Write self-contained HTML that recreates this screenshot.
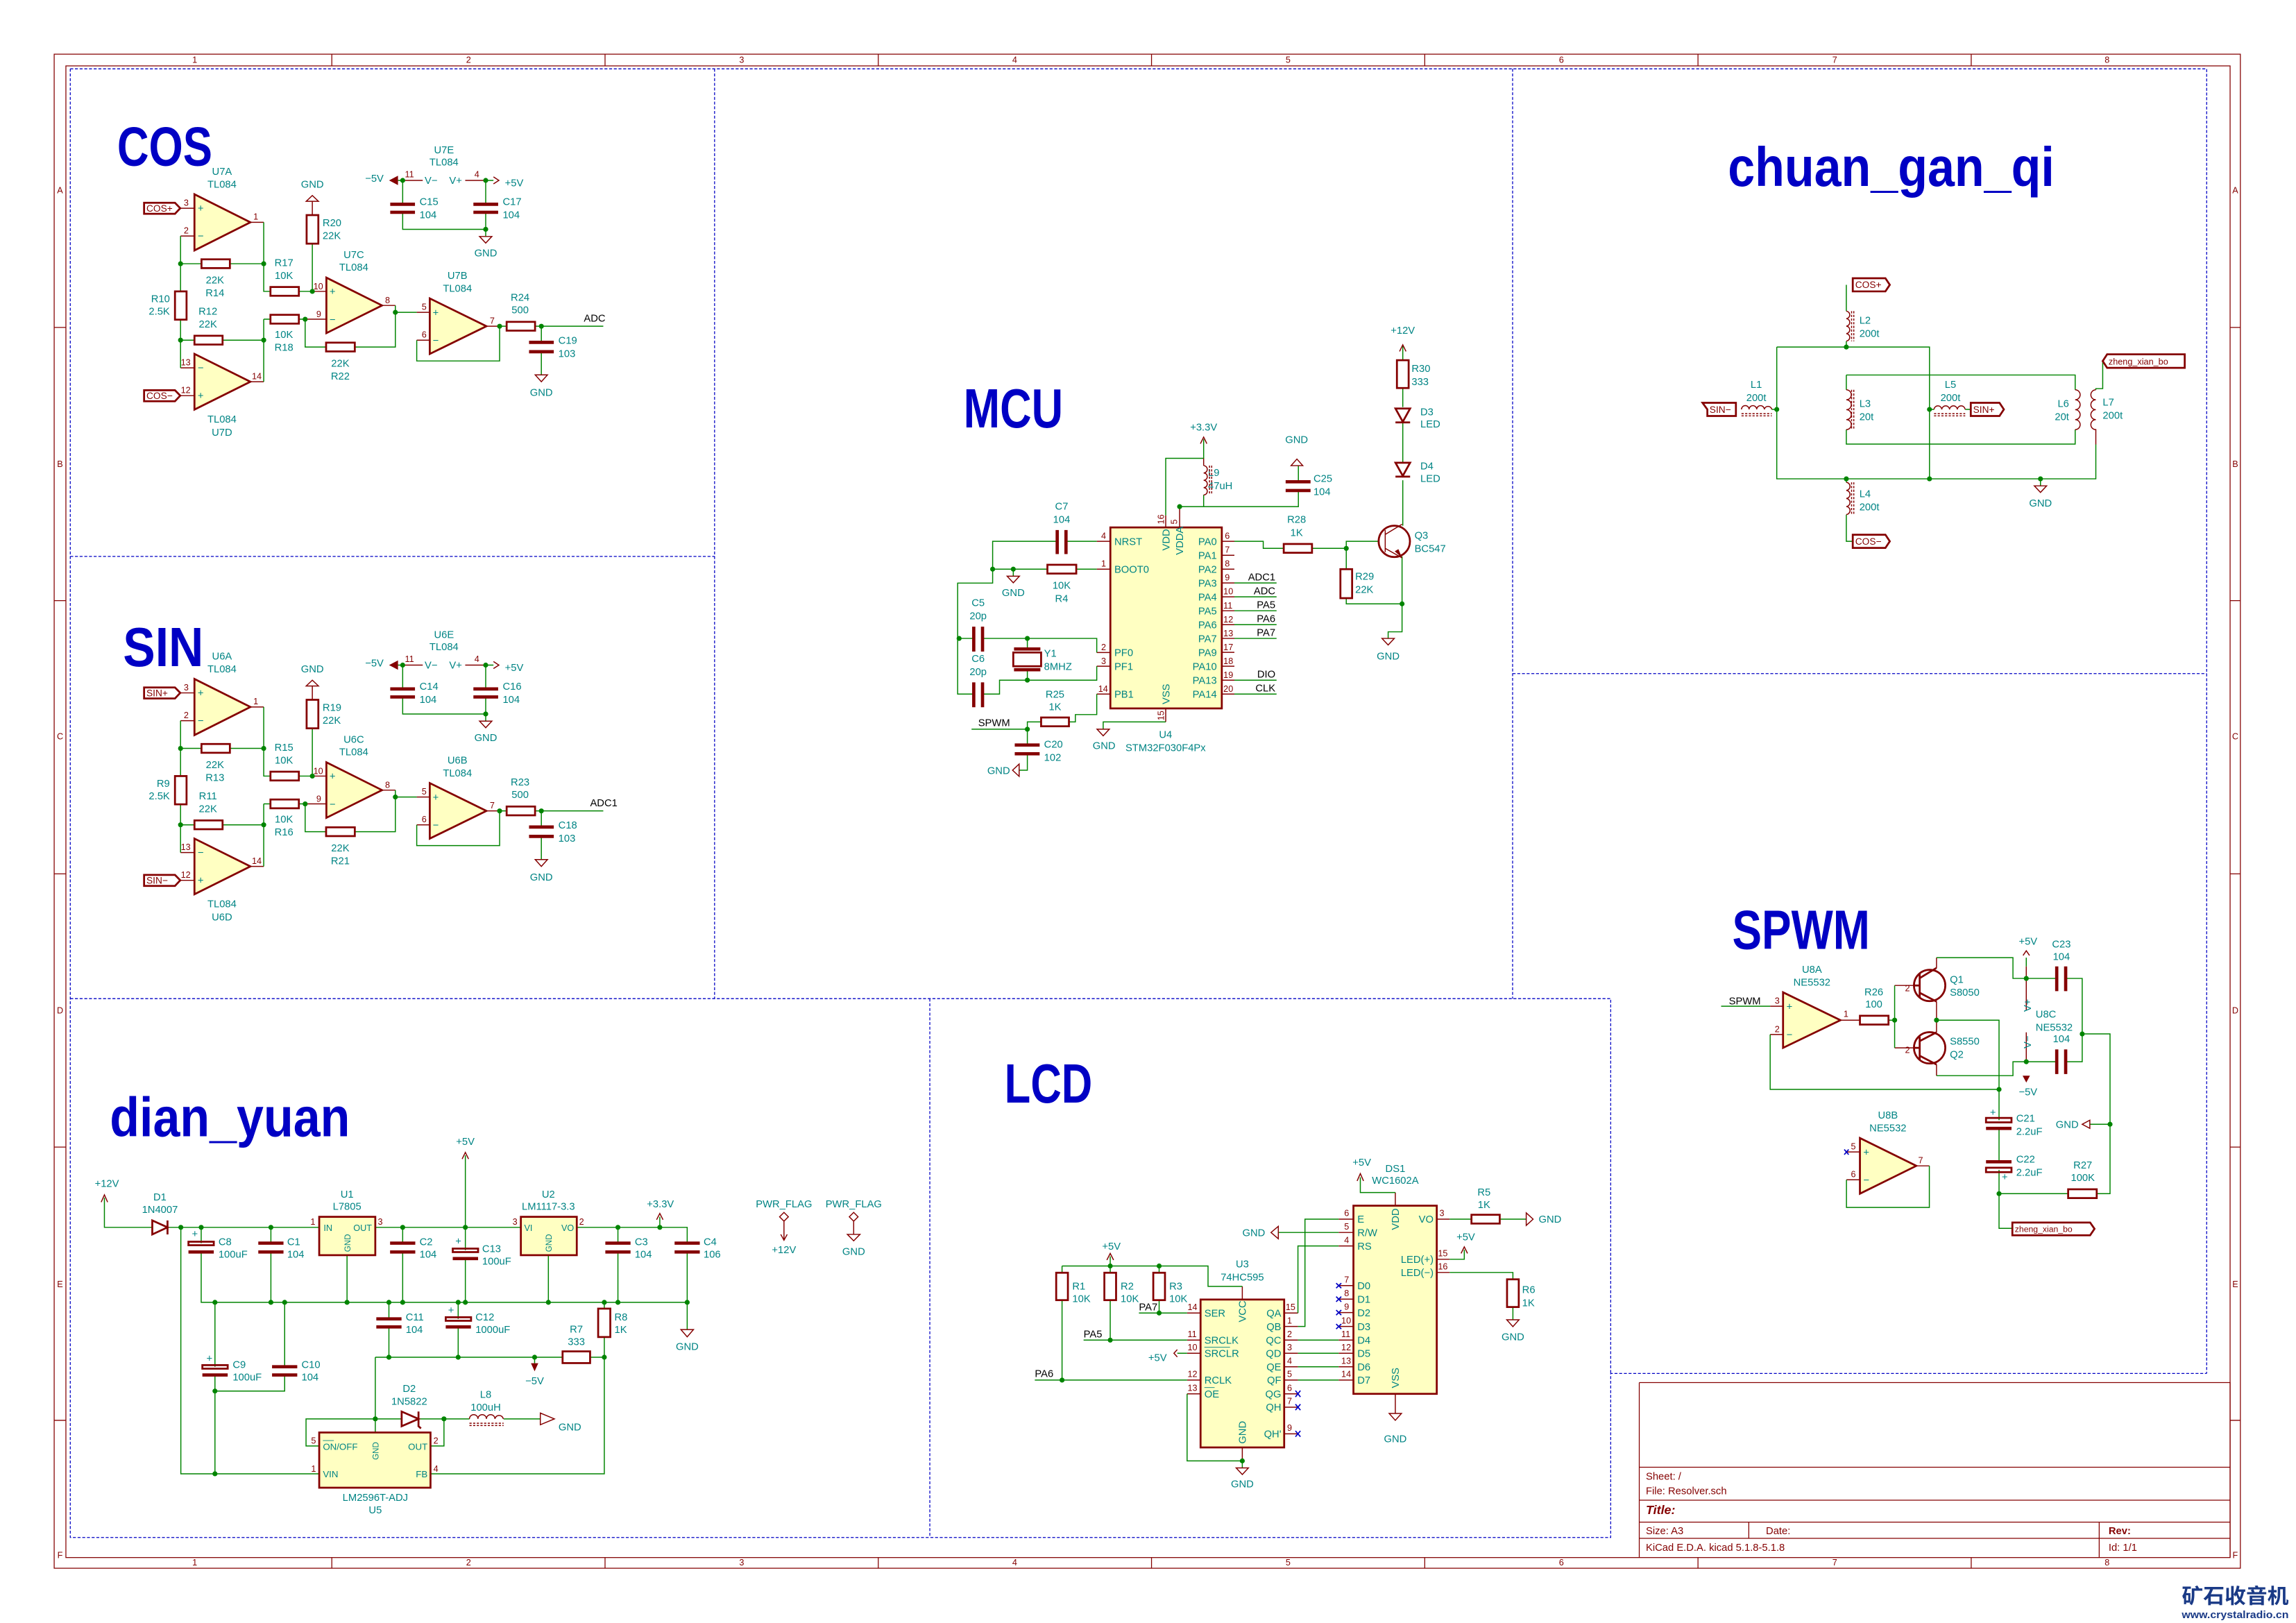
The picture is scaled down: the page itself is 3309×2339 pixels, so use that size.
<!DOCTYPE html>
<html><head><meta charset="utf-8">
<style>
html,body{margin:0;padding:0;background:#fff}
svg{display:block}
.w{stroke:#008400;stroke-width:.7;fill:none}
.p{stroke:#840000;stroke-width:.7;fill:none}
.b{stroke:#840000;stroke-width:1.3;fill:none}
.cb{stroke:#840000;stroke-width:2.2;fill:none}
.f{stroke:#840000;stroke-width:1.3;fill:#ffffc2}
.fr{stroke:#840000;stroke-width:.6;fill:none}
.ds{stroke:#0000c4;stroke-width:.6;fill:none;stroke-dasharray:2 1.2}
.t{fill:#008484;font-family:"Liberation Sans",sans-serif;font-size:7px}
.n{fill:#840000;font-family:"Liberation Sans",sans-serif;font-size:6px}
.k{fill:#000;font-family:"Liberation Sans",sans-serif;font-size:7px}
.hl{fill:#840000;font-family:"Liberation Sans",sans-serif;font-size:6.5px}
.ti{fill:#0000c4;font-family:"Liberation Sans",sans-serif;font-weight:bold;font-size:38px}
.fl{fill:#840000;font-family:"Liberation Sans",sans-serif;font-size:6px}
.m{text-anchor:middle}.e{text-anchor:end}
.x{stroke:#0000c4;stroke-width:.8;fill:none}
</style></head><body>
<svg width="3309" height="2339" viewBox="0 0 1568 1108.4" preserveAspectRatio="none" xmlns="http://www.w3.org/2000/svg">
<rect width="1568" height="1108.4" fill="#fff"/>
<!-- frame -->
<rect class="fr" x="37" y="37" width="1493" height="1034"/>
<rect class="fr" x="45" y="45" width="1478" height="1018.7"/>
<path class="fr" d="M226.6 37V45M413.2 37V45M599.8 37V45M786.4 37V45M973 37V45M1159.6 37V45M1346.2 37V45M226.6 1063.7V1071M413.2 1063.7V1071M599.8 1063.7V1071M786.4 1063.7V1071M973 1063.7V1071M1159.6 1063.7V1071M1346.2 1063.7V1071M37 223.6H45M37 410.2H45M37 596.8H45M37 783.4H45M37 970H45M1523 223.6H1530M1523 410.2H1530M1523 596.8H1530M1523 783.4H1530M1523 970H1530"/>
<g class="fl m">
<text x="133" y="43">1</text><text x="320" y="43">2</text><text x="506.5" y="43">3</text><text x="693" y="43">4</text><text x="879.7" y="43">5</text><text x="1066.3" y="43">6</text><text x="1253" y="43">7</text><text x="1439" y="43">8</text>
<text x="133" y="1069">1</text><text x="320" y="1069">2</text><text x="506.5" y="1069">3</text><text x="693" y="1069">4</text><text x="879.7" y="1069">5</text><text x="1066.3" y="1069">6</text><text x="1253" y="1069">7</text><text x="1439" y="1069">8</text>
<text x="41" y="132">A</text><text x="41" y="319">B</text><text x="41" y="505">C</text><text x="41" y="692">D</text><text x="41" y="879">E</text><text x="41" y="1064">F</text>
<text x="1526.5" y="132">A</text><text x="1526.5" y="319">B</text><text x="1526.5" y="505">C</text><text x="1526.5" y="692">D</text><text x="1526.5" y="879">E</text><text x="1526.5" y="1064">F</text>
</g>
<!-- title block -->
<path class="fr" d="M1119.5 944.2H1523V1063.7M1119.5 944.2V1063.7M1119.5 1002H1523M1119.5 1024.5H1523M1119.5 1039.5H1523M1119.5 1050.6H1523M1194.3 1039.5V1050.6M1433.6 1039.5V1063.7"/>
<text class="fl" x="1124" y="1010.5" style="font-size:7px">Sheet: /</text>
<text class="fl" x="1124" y="1020.5" style="font-size:7px">File: Resolver.sch</text>
<text class="fl" x="1124" y="1034" style="font-size:8.5px;font-weight:bold;font-style:italic">Title:</text>
<text class="fl" x="1124" y="1047.8" style="font-size:7px">Size: A3</text>
<text class="fl" x="1206" y="1047.8" style="font-size:7px">Date:</text>
<text class="fl" x="1440" y="1047.8" style="font-size:7px;font-weight:bold">Rev:</text>
<text class="fl" x="1124" y="1059" style="font-size:7px">KiCad E.D.A.  kicad 5.1.8-5.1.8</text>
<text class="fl" x="1440" y="1059" style="font-size:7px">Id: 1/1</text>
<text x="1490" y="1095" style="fill:#1a3a86;font-family:'Noto Sans CJK SC',sans-serif;font-weight:bold;font-size:14px" textLength="73" lengthAdjust="spacingAndGlyphs">矿石收音机</text>
<text x="1490" y="1105" style="fill:#1a3a86;font-family:'Liberation Sans',sans-serif;font-weight:bold;font-size:7px" textLength="73" lengthAdjust="spacingAndGlyphs">www.crystalradio.cn</text>
<!-- section boxes -->
<path class="ds" d="M48 47H1507V938M48 47V1050H1100V938H1507M48 380H488M488 47V682M48 682H1100V938M635 682V1050M1033 47V682M1033 460H1507"/>
<!-- titles -->
<text class="ti" x="80" y="113" textLength="65" lengthAdjust="spacingAndGlyphs">COS</text>
<text class="ti" x="84" y="455" textLength="55" lengthAdjust="spacingAndGlyphs">SIN</text>
<text class="ti" x="658" y="292" textLength="68" lengthAdjust="spacingAndGlyphs">MCU</text>
<text class="ti" x="1180" y="127" textLength="223" lengthAdjust="spacingAndGlyphs">chuan_gan_qi</text>
<text class="ti" x="1183" y="648" textLength="94" lengthAdjust="spacingAndGlyphs">SPWM</text>
<text class="ti" x="75" y="776" textLength="164" lengthAdjust="spacingAndGlyphs">dian_yuan</text>
<text class="ti" x="686" y="753" textLength="60" lengthAdjust="spacingAndGlyphs">LCD</text>

<defs>
<g id="amp">
<path class="p" d="M123.1 142.2H132.8M123.3 161.2H132.8M171 151.8H180.1M123.3 251.2H132.8M123.1 270.2H132.8M171 260.7H180.1M213.3 199H222.9M208.4 218H222.9M260.9 208.6H270M284.6 213.3H293.5M284.6 232.3H293.5M332.2 222.8H341.2M275 123.2H288.7M317.7 123.2H331.7"/>
<path class="w" d="M123.3 161.2V199M123.3 218.3V251.2M123.3 180.1H137.6M157 180.1H180.1M180.1 151.8V199H184.7M204.1 199H213.3M123.3 232.3H132.8M152 232.3H180.1M180.1 218V260.7M180.1 218H184.7M204.1 218H208.4M213.3 166.4V199M208.4 218V237H222.7M242.3 237H270V208.6M270 213.3H284.6M284.6 232.3V246.5H341.2V222.8M341.2 222.8H346M365.4 222.8H412M369.7 222.8V233.8M369.7 240.2V256M271.8 123.2H275M275 123.2V139.5M275 145V156.6H331.7M331.7 123.2V139.5M331.7 145V161.5M331.7 123.2H337"/>
<path class="p" d="M213.3 137.5V146.9M365.5 256H373.9L369.7 260.7Z M327.5 161.5H335.9L331.7 166Z M209.1 137.5H217.5L213.3 133.5Z M337 120.8L340.7 123.2L337 125.6"/>
<path d="M265.7 123.2L271.8 120L271.8 126.4Z" fill="#840000"/>
<g class="b">
<rect x="137.6" y="177.1" width="19.4" height="6"/><rect x="119.5" y="199" width="7.9" height="19.3"/><rect x="132.8" y="229.3" width="19.2" height="6"/><rect x="184.7" y="196" width="19.4" height="6"/><rect x="184.7" y="215" width="19.4" height="6"/><rect x="209.4" y="146.9" width="8" height="19.5"/><rect x="222.7" y="234" width="19.6" height="6"/><rect x="346" y="219.8" width="19.4" height="6"/>
<path d="M98.4 138.5H119.5L123.1 142.2L119.5 146H98.4ZM98.4 266.5H119.5L123.1 270.2L119.5 274H98.4Z"/>
</g>
<path class="cb" d="M361.3 233.8H378.2M361.3 240.2H378.2M266.5 139.5H283.4M266.5 145H283.4M323.3 139.5H340.2M323.3 145H340.2"/>
<g class="f"><polygon points="132.8,132.7 132.8,171 171,151.8"/><polygon points="132.8,241.7 132.8,279.7 171,260.7"/><polygon points="222.9,189.6 222.9,227.5 260.9,208.6"/><polygon points="293.5,203.8 293.5,241.7 332.2,222.8"/></g>
<g fill="#008400"><circle cx="123.3" cy="180.1" r="1.7"/><circle cx="180.1" cy="180.1" r="1.7"/><circle cx="123.3" cy="232.3" r="1.7"/><circle cx="180.1" cy="232.3" r="1.7"/><circle cx="213.3" cy="199" r="1.7"/><circle cx="208.4" cy="218" r="1.7"/><circle cx="270" cy="213.3" r="1.7"/><circle cx="341.2" cy="222.8" r="1.7"/><circle cx="369.7" cy="222.8" r="1.7"/><circle cx="275" cy="123.2" r="1.7"/><circle cx="331.7" cy="123.2" r="1.7"/><circle cx="331.7" cy="156.6" r="1.7"/></g>
<g class="t"><text x="135" y="144.5">+</text><text x="135" y="163.5">−</text><text x="135" y="253.5">−</text><text x="135" y="272.5">+</text><text x="225" y="201.5">+</text><text x="225" y="220.5">−</text><text x="295.5" y="215.8">+</text><text x="295.5" y="234.8">−</text><text x="290" y="125.7">V−</text><text x="306.8" y="125.7">V+</text></g>
<g class="n"><text x="125.5" y="140.5">3</text><text x="125.5" y="159.5">2</text><text x="173" y="150">1</text><text x="123.5" y="249.5">13</text><text x="123.5" y="268.5">12</text><text x="172" y="259">14</text><text x="214" y="197.5">10</text><text x="216" y="216.5">9</text><text x="263" y="207">8</text><text x="288" y="211.5">5</text><text x="288" y="230.5">6</text><text x="334.5" y="221">7</text><text x="276.5" y="121">11</text><text x="324" y="121">4</text></g>
</g>
</defs>
<use href="#amp"/>
<use href="#amp" y="331"/>
<!-- COS texts -->
<g class="t">
<text class="m" x="151.6" y="119.4">U7A</text><text class="m" x="151.6" y="128.1">TL084</text>
<text class="m" x="146.8" y="193.5">22K</text><text class="m" x="146.8" y="202.4">R14</text>
<text class="m" x="193.9" y="181.8">R17</text><text class="m" x="193.9" y="190.5">10K</text>
<text class="e" x="116" y="206.3">R10</text><text class="e" x="116" y="215">2.5K</text>
<text class="m" x="142" y="215">R12</text><text class="m" x="142" y="223.7">22K</text>
<text class="m" x="193.9" y="230.8">10K</text><text class="m" x="193.9" y="239.5">R18</text>
<text class="m" x="213.3" y="128.1">GND</text>
<text x="220.3" y="154.5">R20</text><text x="220.3" y="163.3">22K</text>
<text class="m" x="241.6" y="176.3">U7C</text><text class="m" x="241.6" y="184.9">TL084</text>
<text class="m" x="232.4" y="250.5">22K</text><text class="m" x="232.4" y="259.3">R22</text>
<text class="m" x="312.4" y="190.5">U7B</text><text class="m" x="312.4" y="199.2">TL084</text>
<text class="m" x="355.2" y="205.5">R24</text><text class="m" x="355.2" y="213.9">500</text>
<text x="381.3" y="234.8">C19</text><text x="381.3" y="243.9">103</text>
<text class="m" x="369.7" y="270.3">GND</text>
<text class="m" x="151.6" y="288.5">TL084</text><text class="m" x="151.6" y="297.5">U7D</text>
<text class="m" x="303.2" y="104.7">U7E</text><text class="m" x="303.2" y="113.1">TL084</text>
<text class="e" x="262" y="124.2">−5V</text><text x="344.8" y="127.3">+5V</text>
<text x="286.5" y="140">C15</text><text x="286.5" y="149.1">104</text>
<text x="343.3" y="140">C17</text><text x="343.3" y="149.1">104</text>
<text class="m" x="331.7" y="175.2">GND</text>
</g>
<text class="k" x="398.7" y="219.6">ADC</text>
<text class="hl" x="100" y="144.6">COS+</text><text class="hl" x="100" y="272.6">COS−</text>
<!-- SIN texts -->
<g transform="translate(0,331)">
<g class="t">
<text class="m" x="151.6" y="119.4">U6A</text><text class="m" x="151.6" y="128.1">TL084</text>
<text class="m" x="146.8" y="193.5">22K</text><text class="m" x="146.8" y="202.4">R13</text>
<text class="m" x="193.9" y="181.8">R15</text><text class="m" x="193.9" y="190.5">10K</text>
<text class="e" x="116" y="206.3">R9</text><text class="e" x="116" y="215">2.5K</text>
<text class="m" x="142" y="215">R11</text><text class="m" x="142" y="223.7">22K</text>
<text class="m" x="193.9" y="230.8">10K</text><text class="m" x="193.9" y="239.5">R16</text>
<text class="m" x="213.3" y="128.1">GND</text>
<text x="220.3" y="154.5">R19</text><text x="220.3" y="163.3">22K</text>
<text class="m" x="241.6" y="176.3">U6C</text><text class="m" x="241.6" y="184.9">TL084</text>
<text class="m" x="232.4" y="250.5">22K</text><text class="m" x="232.4" y="259.3">R21</text>
<text class="m" x="312.4" y="190.5">U6B</text><text class="m" x="312.4" y="199.2">TL084</text>
<text class="m" x="355.2" y="205.5">R23</text><text class="m" x="355.2" y="213.9">500</text>
<text x="381.3" y="234.8">C18</text><text x="381.3" y="243.9">103</text>
<text class="m" x="369.7" y="270.3">GND</text>
<text class="m" x="151.6" y="288.5">TL084</text><text class="m" x="151.6" y="297.5">U6D</text>
<text class="m" x="303.2" y="104.7">U6E</text><text class="m" x="303.2" y="113.1">TL084</text>
<text class="e" x="262" y="124.2">−5V</text><text x="344.8" y="127.3">+5V</text>
<text x="286.5" y="140">C14</text><text x="286.5" y="149.1">104</text>
<text x="343.3" y="140">C16</text><text x="343.3" y="149.1">104</text>
<text class="m" x="331.7" y="175.2">GND</text>
</g>
<text class="k" x="403" y="219.6">ADC1</text>
<text class="hl" x="100" y="144.6">SIN+</text><text class="hl" x="100" y="272.6">SIN−</text>
</g>

<!-- MCU -->
<rect class="f" x="758.3" y="360.2" width="76.1" height="123.6"/>
<path class="p" d="M749 369.7H758.3M749 388.7H758.3M749 445.6H758.3M749 455H758.3M749 474H758.3M834.4 369.7H843M834.4 379.2H843M834.4 388.7H843M834.4 398.1H843M834.4 407.6H843M834.4 417.1H843M834.4 426.6H843M834.4 436H843M834.4 445.5H843M834.4 455H843M834.4 464.5H843M834.4 474H843M796.1 352V360.2M805.6 346V360.2M796.1 483.8V493"/>
<g class="t"><text x="761" y="372.2">NRST</text><text x="761" y="391.2">BOOT0</text><text x="761" y="448.1">PF0</text><text x="761" y="457.5">PF1</text><text x="761" y="476.5">PB1</text>
<text class="e" x="831" y="372.2">PA0</text><text class="e" x="831" y="381.7">PA1</text><text class="e" x="831" y="391.2">PA2</text><text class="e" x="831" y="400.6">PA3</text><text class="e" x="831" y="410.1">PA4</text><text class="e" x="831" y="419.6">PA5</text><text class="e" x="831" y="429.1">PA6</text><text class="e" x="831" y="438.5">PA7</text><text class="e" x="831" y="448">PA9</text><text class="e" x="831" y="457.5">PA10</text><text class="e" x="831" y="467">PA13</text><text class="e" x="831" y="476.5">PA14</text>
<text transform="translate(798.6,376) rotate(-90)">VDD</text><text transform="translate(808,379) rotate(-90)">VDDA</text><text transform="translate(798.6,481) rotate(-90)">VSS</text>
<text class="m" x="796" y="504">U4</text><text class="m" x="796" y="513">STM32F030F4Px</text>
<text class="m" x="725" y="348">C7</text><text class="m" x="725" y="357">104</text>
<text class="m" x="725" y="402">10K</text><text class="m" x="725" y="411">R4</text>
<text class="m" x="692" y="407">GND</text>
<text class="m" x="668" y="414">C5</text><text class="m" x="668" y="423">20p</text>
<text class="m" x="668" y="452">C6</text><text class="m" x="668" y="461">20p</text>
<text x="713" y="448.5">Y1</text><text x="713" y="457.5">8MHZ</text>
<text class="m" x="720.5" y="476.5">R25</text><text class="m" x="720.5" y="485">1K</text>
<text x="713" y="510.5">C20</text><text x="713" y="519.5">102</text>
<text class="m" x="682" y="528.5">GND</text><text class="m" x="754" y="511.5">GND</text>
<text class="m" x="822" y="294">+3.3V</text><text x="825" y="325">L9</text><text x="825" y="334">47uH</text>
<text class="m" x="885.5" y="302.5">GND</text><text x="897" y="329">C25</text><text x="897" y="338">104</text>
<text class="m" x="885.5" y="357">R28</text><text class="m" x="885.5" y="366">1K</text>
<text x="966" y="368">Q3</text><text x="966" y="377">BC547</text>
<text x="925.5" y="396">R29</text><text x="925.5" y="405">22K</text>
<text class="m" x="948" y="450.5">GND</text>
<text class="m" x="958" y="228">+12V</text>
<text x="964" y="254">R30</text><text x="964" y="263">333</text>
<text x="970" y="283.5">D3</text><text x="970" y="292">LED</text>
<text x="970" y="320.5">D4</text><text x="970" y="329">LED</text>
</g>
<g class="n"><text x="752" y="368">4</text><text x="752" y="387">1</text><text x="752" y="444">2</text><text x="752" y="453.5">3</text><text x="750" y="472.5">14</text>
<text x="836.5" y="368">6</text><text x="836.5" y="377.5">7</text><text x="836.5" y="387">8</text><text x="836.5" y="396.5">9</text><text x="835.5" y="406">10</text><text x="835.5" y="415.5">11</text><text x="835.5" y="425">12</text><text x="835.5" y="434.5">13</text><text x="835.5" y="444">17</text><text x="835.5" y="453.5">18</text><text x="835.5" y="463">19</text><text x="835.5" y="472.5">20</text>
<text transform="translate(795,358) rotate(-90)">16</text><text transform="translate(804,358) rotate(-90)">5</text><text transform="translate(795,492) rotate(-90)">15</text></g>
<g class="k"><text class="e" x="871" y="396.3">ADC1</text><text class="e" x="871" y="405.8">ADC</text><text class="e" x="871" y="415.3">PA5</text><text class="e" x="871" y="424.8">PA6</text><text class="e" x="871" y="434.2">PA7</text><text class="e" x="871" y="462.7">DIO</text><text class="e" x="871" y="472.2">CLK</text><text x="668" y="496">SPWM</text></g>
<path class="w" d="M843 398.1H871.8M843 407.6H871.8M843 417.1H871.8M843 426.6H871.8M843 436H871.8M843 464.5H871.8M843 474H871.8
M749 369.7H728M722 369.7H677.9V398.2H654V474H665M749 388.7H735M715.3 388.7H677.9M692 388.7V393.5
M654 436H665M671 436H749V445.6M701.6 436V443.2M701.6 457.4V464.5M671 474H682.6V464.5H749V455
M749 474V488H734.4V493H730M711 493H701.6V498M663.5 498H701.6V508.8M701.6 514.8V526H696
M796.1 493H753.4V498
M843 369.7H862.7V374.5H876.7M896 374.5H919.4V369.7H941.6M919.4 374.5V388.7M919.4 408.5V412.4H957.5M957.5 380V431.5H948V436
M822 300V313H796.1V352M822 338V346H805.6H886.7V335M886.7 329V318
M958 236V246M958 265V278M958 289V316M958 328V359"/>
<g class="b"><rect x="715.3" y="385.7" width="19.7" height="6"/><rect x="711" y="490" width="19" height="6"/><rect x="876.7" y="371.5" width="19.3" height="6"/><rect x="915.4" y="388.7" width="8" height="19.8"/><rect x="954" y="246" width="8" height="19"/><rect x="692" y="445.6" width="19" height="9.4"/>
<circle cx="952.2" cy="369.7" r="10.7"/></g>
<path class="cb" d="M722 362V378.4M728 362V378.4M665 428V445M671 428V445M665 466V483M671 466V483M692.5 443.2H710.5M692.5 457.4H710.5M693 508.8H710M693 514.8H710M878 329H895M878 335H895"/>
<path class="p" d="M687.8 393.5H696.2L692 398ZM696 521.8V530.2L691.5 526ZM749.2 498H757.6L753.4 502.5ZM943.8 436H952.2L948 440.5ZM881.7 318H889.7L885.7 313.5ZM819.8 303L822 298.5L824.2 303M955.8 240L958 235.5L960.2 240
M822 318a2.5 2.5 0 0 1 0 5a2.5 2.5 0 0 1 0 5a2.5 2.5 0 0 1 0 5a2.5 2.5 0 0 1 0 5M822 313V318
M946 362V377M946 365L957.5 358M946 374.5L957.5 381"/>
<path class="p" d="M826 318V338M827.5 318V338" stroke-dasharray="1.5 1"/>
<path d="M957.5 381L952.5 376.5L955 375Z" fill="#840000"/>
<path class="b" d="M953 279H963L958 288ZM953 288.5H963M953 316H963L958 325ZM953 325.5H963"/>
<g fill="#008400"><circle cx="677.9" cy="388.7" r="1.7"/><circle cx="692" cy="388.7" r="1.7"/><circle cx="655" cy="436" r="1.7"/><circle cx="701.6" cy="436" r="1.7"/><circle cx="701.6" cy="464.5" r="1.7"/><circle cx="701.6" cy="498" r="1.7"/><circle cx="805.6" cy="346" r="1.7"/><circle cx="919.4" cy="374.5" r="1.7"/><circle cx="957.5" cy="412.4" r="1.7"/></g>

<!-- chuan_gan_qi -->
<path class="w" d="M1260.9 194.5V212.5M1260.9 233V237M1213.4 237H1317.7V327M1213.4 237V327H1431.3V303.5M1210 279.6H1213.4M1260.9 256.1H1417.2V266.2M1260.9 256.1V266.2M1260.9 293.4V303.3H1417.2V293.4M1317.7 279.6H1320.8M1342.1 279.6H1345.9M1431.3 266.2V265.4H1436V246.5M1260.9 327V329.4M1260.9 351.5V369.7H1265.3M1393.5 327V331.8"/>
<path class="p" d="M1260.9 212.5a2.56 2.56 0 0 1 0 5.1a2.56 2.56 0 0 1 0 5.1a2.56 2.56 0 0 1 0 5.1a2.56 2.56 0 0 1 0 5.1
M1260.9 329.4a2.76 2.76 0 0 1 0 5.5a2.76 2.76 0 0 1 0 5.5a2.76 2.76 0 0 1 0 5.5a2.76 2.76 0 0 1 0 5.5
M1260.9 266.2a3.4 3.4 0 0 1 0 6.8a3.4 3.4 0 0 1 0 6.8a3.4 3.4 0 0 1 0 6.8a3.4 3.4 0 0 1 0 6.8
M1417.2 266.2a3.4 3.4 0 0 1 0 6.8a3.4 3.4 0 0 1 0 6.8a3.4 3.4 0 0 1 0 6.8a3.4 3.4 0 0 1 0 6.8
M1431.3 266.2a3.4 3.4 0 0 0 0 6.8a3.4 3.4 0 0 0 0 6.8a3.4 3.4 0 0 0 0 6.8a3.4 3.4 0 0 0 0 6.8V303.5
M1189.3 279.6a2.6 2.6 0 0 1 5.2 0a2.6 2.6 0 0 1 5.2 0a2.6 2.6 0 0 1 5.2 0a2.6 2.6 0 0 1 5.1 0
M1320.8 279.6a2.66 2.66 0 0 1 5.3 0a2.66 2.66 0 0 1 5.3 0a2.66 2.66 0 0 1 5.3 0a2.66 2.66 0 0 1 5.3 0
M1389.3 331.8H1397.7L1393.5 336.3Z"/>
<path class="p" d="M1264.5 212.5V233M1266 212.5V233M1264.5 329.4V351.5M1266 329.4V351.5M1264.5 266.2V293.4M1266 266.2V293.4M1189.3 282.5H1210M1189.3 284H1210M1320.8 282.5H1342.1M1320.8 284H1342.1" stroke-dasharray="1.5 1"/>
<g class="b"><path d="M1265.3 190H1287.6L1290.6 194.5L1287.6 199H1265.3Z M1265.3 365.2H1287.6L1290.6 369.7L1287.6 374.2H1265.3Z M1166 279.6L1162.7 275.1H1185.5V284.1H1166Z M1345.9 275.1H1365.5L1368.5 279.6L1365.5 284.1H1345.9Z M1436 246.6L1439 242H1492V251.2H1439Z"/></g>
<g class="hl"><text x="1267" y="196.7">COS+</text><text x="1267" y="372">COS−</text><text x="1167.5" y="281.9">SIN−</text><text x="1347.5" y="281.9">SIN+</text><text x="1440" y="249" style="font-size:6px">zheng_xian_bo</text></g>
<g fill="#008400"><circle cx="1260.9" cy="237" r="1.7"/><circle cx="1213.4" cy="279.6" r="1.7"/><circle cx="1317.7" cy="279.6" r="1.7"/><circle cx="1260.9" cy="327" r="1.7"/><circle cx="1317.7" cy="327" r="1.7"/><circle cx="1393.5" cy="327" r="1.7"/></g>
<g class="t"><text x="1269.8" y="221">L2</text><text x="1269.8" y="230">200t</text><text class="m" x="1199.4" y="264.8">L1</text><text class="m" x="1199.4" y="273.9">200t</text><text x="1269.8" y="278">L3</text><text x="1269.8" y="287">20t</text><text class="m" x="1332" y="264.8">L5</text><text class="m" x="1332" y="273.9">200t</text><text class="e" x="1413" y="278">L6</text><text class="e" x="1413" y="287">20t</text><text x="1436" y="277">L7</text><text x="1436" y="286">200t</text><text x="1269.8" y="339.5">L4</text><text x="1269.8" y="348.5">200t</text><text class="m" x="1393.5" y="346">GND</text></g>

<!-- SPWM -->
<polygon class="f" points="1217.7,677.7 1217.7,715.6 1256.9,696.7"/>
<polygon class="f" points="1270.2,777.2 1270.2,815.2 1308.7,796.2"/>
<path class="p" d="M1208.9 687.2H1217.7M1208.9 706.5H1217.7M1256.9 696.7H1270.2M1261 786.7H1270.2M1261 805.7H1270.2M1308.7 796.2H1317.6M1383.8 668.2V690M1383.8 705V725.1M1383.8 660V668.2M1322.5 654V661M1322.5 684V696.7V705M1322.5 727V734.6M1293.9 673H1307.2M1293.9 715.6H1307.2"/>
<path class="w" d="M1175.4 687.2H1208.9M1208.9 706.5V744H1365.2M1289.7 696.7H1293.9M1293.9 673V715.6M1322.5 654H1374.7V668.2H1404.6M1410.7 668.2H1422V725.1H1410.7M1422 706.1H1441V815.2H1431.9M1322.5 734.6H1374.7V725.1H1404.6M1322.5 696.7H1365.2V765M1365.2 770.6V793.4M1365.2 799V838.9H1374.3M1365.2 815.2H1412.4M1427.2 767.8H1441M1261 805.7V824.6H1317.6V796.2M1383.8 654V660"/>
<g class="b"><rect x="1270.2" y="693.7" width="19.5" height="6"/><rect x="1412.4" y="812.2" width="19.5" height="6"/><circle cx="1317.8" cy="673" r="10.7"/><circle cx="1317.8" cy="715.6" r="10.7"/>
<path d="M1311 665V681M1307.2 673H1311M1311 668L1322.5 661M1311 678L1322.5 684M1311 708V724M1307.2 715.6H1311M1311 711L1322.5 705M1311 721L1322.5 727"/>
<path d="M1374.3 834.9H1427.4L1430.4 839.2L1427.4 843.6H1374.3Z M1356.3 763.5H1373.7V766.5H1356.3Z M1356.3 797.5H1373.7V800.5H1356.3Z"/></g>
<path class="cb" d="M1404.6 660V676.9M1410.7 660V676.9M1404.6 716.7V733.5M1410.7 716.7V733.5M1356.3 770.6H1373.7M1356.3 793.4H1373.7"/>
<path class="p" d="M1381.6 652.5L1383.8 649.3L1386 652.5M1427.2 765L1422 767.8L1427.2 770.6Z"/>
<path d="M1381.3 734.6H1386.3L1383.8 739.3Z" fill="#840000"/>
<path class="x" d="M1259.5 785L1262.5 788.5M1262.5 785L1259.5 788.5"/>
<g fill="#008400"><circle cx="1293.9" cy="696.7" r="1.7"/><circle cx="1322.5" cy="696.7" r="1.7"/><circle cx="1383.8" cy="668.2" r="1.7"/><circle cx="1383.8" cy="725.1" r="1.7"/><circle cx="1422" cy="706.1" r="1.7"/><circle cx="1365.2" cy="744" r="1.7"/><circle cx="1441" cy="767.8" r="1.7"/><circle cx="1365.2" cy="815.2" r="1.7"/></g>
<g class="t"><text class="m" x="1237.4" y="664.4">U8A</text><text class="m" x="1237.4" y="673.1">NE5532</text><text class="m" x="1289.3" y="763.9">U8B</text><text class="m" x="1289.3" y="772.6">NE5532</text><text class="m" x="1279.7" y="679.7">R26</text><text class="m" x="1279.7" y="688.1">100</text><text x="1331.6" y="671.2">Q1</text><text x="1331.6" y="679.9">S8050</text><text x="1331.6" y="713.4">S8550</text><text x="1331.6" y="722.4">Q2</text><text class="m" x="1385" y="645.2">+5V</text><text class="m" x="1407.8" y="647">C23</text><text class="m" x="1407.8" y="655.7">104</text><text x="1390.2" y="694.9">U8C</text><text x="1390.2" y="703.9">NE5532</text><text class="m" x="1407.8" y="711.8">104</text><text class="m" x="1385" y="748">−5V</text><text x="1376.9" y="766">C21</text><text x="1376.9" y="775">2.2uF</text><text x="1376.9" y="794">C22</text><text x="1376.9" y="803">2.2uF</text><text class="m" x="1422.4" y="797.9">R27</text><text class="m" x="1422.4" y="806.6">100K</text><text class="e" x="1419.5" y="770.3">GND</text><text x="1359" y="762">+</text><text x="1367" y="806">+</text>
<text transform="translate(1387,691) rotate(-90)">V+</text><text transform="translate(1387,716) rotate(-90)">V−</text><text x="1220" y="689.7">+</text><text x="1220" y="709">−</text><text x="1272.5" y="789.2">+</text><text x="1272.5" y="808.2">−</text></g>
<text class="k" x="1180.7" y="686">SPWM</text>
<text class="hl" x="1376" y="841.3" style="font-size:5.8px">zheng_xian_bo</text>
<g class="n"><text x="1212" y="685.5">3</text><text x="1212" y="705">2</text><text x="1259" y="694.5">1</text><text x="1264" y="785">5</text><text x="1264" y="804">6</text><text x="1310" y="794.5">7</text><text x="1301" y="677">2</text><text x="1301" y="719">2</text></g>

<!-- dian_yuan -->
<path class="w" d="M71.3 818V838.2H104M114.4 838.2H218M256.3 838.2H355.7M393.9 838.2H469.3V849M469.3 855V908M317.8 789V838.2M450.6 831V838.2
M137.4 838.2V849M137.4 855V889.4H469.3M185 838.2V849M185 855V889.4M275 838.2V849M275 855V889.4M317.8 838.2V853.8M317.8 859.5V889.4M422 838.2V849M422 855V889.4M237 857.2V889.4M374.5 857.2V889.4
M146.8 889.4V933.4M146.8 939V1006.5M194.4 889.4V933.4M194.4 939V950H146.8M123.5 838.2V1006.5H218
M265.6 889.4V900.7M265.6 906.2V926.9M312.9 889.4V900.7M312.9 906.2V926.9M256.3 926.9H384.2M403 926.9H412.7M365.1 926.9V931M412.7 889.4V893.7M412.7 913.1V1006.5H294
M218 987.5H209V969H274.3M285.8 969H320.6M343.9 969H369M303.2 969V987.5H294M256.3 926.9V978.3"/>
<g class="f"><rect x="218" y="831" width="38.3" height="26.2"/><rect x="355.7" y="831" width="38.2" height="26.2"/><rect x="218" y="978.3" width="76" height="37.7"/></g>
<g class="b"><rect x="384.2" y="922.9" width="18.8" height="8"/><rect x="408.5" y="893.7" width="8.3" height="19.4"/>
<rect x="128.7" y="848" width="17.3" height="2.4"/><rect x="309.2" y="852.7" width="17.3" height="2.4"/><rect x="304.4" y="899.6" width="17.3" height="2.4"/><rect x="138.2" y="932.3" width="17.3" height="2.4"/>
<path d="M104 833.5V843L114.4 838.2ZM114.4 833.5V843M274.3 964V974L285.8 969ZM285.8 964V974L287.5 975.5"/></g>
<path class="cb" d="M128.7 855H146M176.4 849H193.6M176.4 855H193.6M266.4 849H283.6M266.4 855H283.6M309.2 859.5H326.5M413.4 849H430.6M413.4 855H430.6M460.7 849H477.9M460.7 855H477.9M257 900.7H274.2M257 906.2H274.2M304.4 906.2H321.6M138.2 939H155.5M185.8 933.4H203M185.8 939H203"/>
<path class="p" d="M69.1 821L71.3 816L73.5 821M315.6 791.5L317.8 787L320 791.5M448.4 833L450.6 828.7L452.8 833M465 908H473.6L469.3 913ZM320.6 969a2.9 2.9 0 0 1 5.8 0a2.9 2.9 0 0 1 5.8 0a2.9 2.9 0 0 1 5.8 0a2.9 2.9 0 0 1 5.7 0M369 965V973L378.6 969ZM535.4 834V846.5M533.2 843L535.4 847L537.6 843M532.4 831L535.4 828L538.4 831L535.4 834ZM580 831L583 828L586 831L583 834ZM583 834V843M578.7 843H587.3L583 847.4Z"/>
<path class="p" d="M320.6 972H343.9M320.6 973.5H343.9" stroke-dasharray="1.5 1"/>
<path d="M362.6 931H367.6L365.1 936.5Z" fill="#840000"/>
<g fill="#008400"><circle cx="123.5" cy="838.2" r="1.7"/><circle cx="137.4" cy="838.2" r="1.7"/><circle cx="185" cy="838.2" r="1.7"/><circle cx="275" cy="838.2" r="1.7"/><circle cx="317.8" cy="838.2" r="1.7"/><circle cx="422" cy="838.2" r="1.7"/><circle cx="450.6" cy="838.2" r="1.7"/>
<circle cx="146.8" cy="889.4" r="1.7"/><circle cx="185" cy="889.4" r="1.7"/><circle cx="194.4" cy="889.4" r="1.7"/><circle cx="237" cy="889.4" r="1.7"/><circle cx="265.6" cy="889.4" r="1.7"/><circle cx="275" cy="889.4" r="1.7"/><circle cx="312.9" cy="889.4" r="1.7"/><circle cx="317.8" cy="889.4" r="1.7"/><circle cx="374.5" cy="889.4" r="1.7"/><circle cx="412.7" cy="889.4" r="1.7"/><circle cx="422" cy="889.4" r="1.7"/><circle cx="469.3" cy="889.4" r="1.7"/>
<circle cx="265.6" cy="926.9" r="1.7"/><circle cx="312.9" cy="926.9" r="1.7"/><circle cx="365.1" cy="926.9" r="1.7"/><circle cx="412.7" cy="926.9" r="1.7"/><circle cx="146.8" cy="950" r="1.7"/><circle cx="146.8" cy="1006.5" r="1.7"/><circle cx="256.3" cy="969" r="1.7"/><circle cx="303.2" cy="969" r="1.7"/></g>
<g class="t"><text class="m" x="73" y="810.5">+12V</text><text class="m" x="109.2" y="819.9">D1</text><text class="m" x="109.2" y="828.3">1N4007</text><text class="m" x="237" y="817.9">U1</text><text class="m" x="237" y="826.2">L7805</text><text class="m" x="374.5" y="817.9">U2</text><text class="m" x="374.5" y="826.2">LM1117-3.3</text><text class="m" x="317.8" y="782">+5V</text><text class="m" x="451" y="824.5">+3.3V</text>
<text x="149.2" y="850.4">C8</text><text x="149.2" y="859">100uF</text><text x="196.1" y="850.4">C1</text><text x="196.1" y="859">104</text><text x="286.5" y="850.4">C2</text><text x="286.5" y="859">104</text><text x="329.3" y="855.1">C13</text><text x="329.3" y="863.7">100uF</text><text x="433.5" y="850.4">C3</text><text x="433.5" y="859">104</text><text x="480.5" y="850.4">C4</text><text x="480.5" y="859">106</text>
<text class="m" x="469.3" y="922">GND</text><text x="277.1" y="901.8">C11</text><text x="277.1" y="910.4">104</text><text x="324.7" y="901.8">C12</text><text x="324.7" y="910.4">1000uF</text><text class="m" x="393.6" y="910.1">R7</text><text class="m" x="393.6" y="918.7">333</text><text x="419.6" y="901.8">R8</text><text x="419.6" y="910.4">1K</text><text class="m" x="365.1" y="945.4">−5V</text>
<text x="158.9" y="934.3">C9</text><text x="158.9" y="942.9">100uF</text><text x="205.9" y="934.3">C10</text><text x="205.9" y="942.9">104</text><text class="m" x="279.5" y="950.7">D2</text><text class="m" x="279.5" y="959.4">1N5822</text><text class="m" x="331.7" y="954.7">L8</text><text class="m" x="331.7" y="963.4">100uH</text><text x="381.4" y="977">GND</text>
<text class="m" x="256.3" y="1024.9">LM2596T-ADJ</text><text class="m" x="256.3" y="1033.5">U5</text>
<text class="m" x="535.4" y="824.5">PWR_FLAG</text><text class="m" x="583" y="824.5">PWR_FLAG</text><text class="m" x="535.4" y="855.9">+12V</text><text class="m" x="583" y="857">GND</text>
<text x="221" y="840.7" style="font-size:6px">IN</text><text class="e" x="254" y="840.7" style="font-size:6px">OUT</text><text x="358" y="840.7" style="font-size:6px">VI</text><text class="e" x="392" y="840.7" style="font-size:6px">VO</text>
<text transform="translate(239.2,855) rotate(-90)" style="font-size:5.5px">GND</text><text transform="translate(376.7,855) rotate(-90)" style="font-size:5.5px">GND</text><text transform="translate(258.5,997) rotate(-90)" style="font-size:5.5px">GND</text>
<text x="220.5" y="990.2" style="font-size:6.3px">ON/OFF</text><text class="e" x="292" y="990.2" style="font-size:6.3px">OUT</text><text x="220.5" y="1009" style="font-size:6.3px">VIN</text><text class="e" x="292" y="1009" style="font-size:6.3px">FB</text><text x="131" y="845">+</text><text x="311" y="850">+</text><text x="306" y="897">+</text><text x="141" y="930">+</text></g>
<path d="M220.5 983.8H228" stroke="#008484" stroke-width=".4"/>
<g class="n"><text x="212" y="836.5">1</text><text x="258" y="836.5">3</text><text x="350" y="836.5">3</text><text x="395.5" y="836.5">2</text><text x="212.5" y="986">5</text><text x="212.5" y="1005">1</text><text x="296" y="986">2</text><text x="296" y="1005">4</text></g>

<!-- LCD -->
<rect class="f" x="924.3" y="823.4" width="56.9" height="128.5"/>
<rect class="f" x="819.9" y="887.5" width="57.1" height="101"/>
<path class="p" d="M914.2 832.6H924.3M914.2 841.7H924.3M914.2 850.9H924.3M914.2 878H924.3M914.2 887.2H924.3M914.2 896.4H924.3M914.2 905.9H924.3M914.2 915.2H924.3M914.2 924.2H924.3M914.2 933.4H924.3M914.2 942.5H924.3M981.2 832.6H990M981.2 860H990M981.2 869H990M952.9 814.4V823.4M952.9 951.9V965.3M810.7 896.7H819.9M810.7 915.2H819.9M810.7 924.2H819.9M810.7 942.5H819.9M810.7 951.9H819.9M877 896.7H886.4M877 905.9H886.4M877 915.2H886.4M877 924.2H886.4M877 933.4H886.4M877 942.5H886.4M877 951.9H886.4M877 961H886.4M877 979.2H886.4M848.4 878.5V887.5M848.4 988.5V997.7"/>
<path class="w" d="M952.9 814.4H929V804M914.2 832.6H891.2V905.9H886.4M914.2 850.9H886.4V896.7M914.2 841.7H873M886.4 915.2H914.2M886.4 924.2H914.2M886.4 933.4H914.2M886.4 942.5H914.2M990 832.6H1004.9M1024.2 832.6H1042.3M990 860H1000V853.5M990 869H1033.2V873.7M1033.2 892.6V901.3
M725.3 864.6H825V878.5H848.4M725.3 864.6V869.2M758.2 864.6V869.2M791.6 864.6V869.2M758.2 864.6V858M725.3 887.9V942.5M758.2 887.9V915.2M791.6 887.9V896.7M777.8 896.7H810.7M740 915.2H810.7M706.7 942.5H810.7M804 924.2H810.7M810.7 951.9V997.7H848.4V1002.5"/>
<g class="b"><rect x="1004.9" y="829.6" width="19.3" height="6"/><rect x="1029.2" y="873.7" width="8" height="18.9"/><rect x="721.3" y="869.2" width="8" height="18.7"/><rect x="754.2" y="869.2" width="8" height="18.7"/><rect x="787.6" y="869.2" width="8" height="18.7"/></g>
<path class="p" d="M926.8 806.5L929 801.5L931.2 806.5M997.8 856L1000 851.5L1002.2 856M755.9 860.5L758.2 856L760.5 860.5M804 921.7L801.7 924.2L804 926.7M1042.3 828.3V836.9L1047 832.6ZM873 837.5V846L868 841.7ZM1029 901.3H1037.4L1033.2 906ZM948.7 965.3H957.1L952.9 970ZM844.2 1002.5H852.6L848.4 1007Z"/>
<path class="x" d="M912.5 876.3L916 879.7M916 876.3L912.5 879.7M912.5 885.5L916 889M916 885.5L912.5 889M912.5 894.7L916 898.1M916 894.7L912.5 898.1M912.5 904.2L916 907.6M916 904.2L912.5 907.6M884.7 949.7L888.1 954M888.1 949.7L884.7 954M884.7 959L888.1 963M888.1 959L884.7 963M884.7 977.2L888.1 981.2M888.1 977.2L884.7 981.2"/>
<g fill="#008400"><circle cx="758.2" cy="864.6" r="1.7"/><circle cx="791.6" cy="864.6" r="1.7"/><circle cx="791.6" cy="896.7" r="1.7"/><circle cx="758.2" cy="915.2" r="1.7"/><circle cx="725.3" cy="942.5" r="1.7"/><circle cx="848.4" cy="997.7" r="1.7"/></g>
<g class="t"><text x="927" y="835">E</text><text x="927" y="844.2">R/W</text><text x="927" y="853.4">RS</text><text x="927" y="880.5">D0</text><text x="927" y="889.7">D1</text><text x="927" y="898.9">D2</text><text x="927" y="908.4">D3</text><text x="927" y="917.7">D4</text><text x="927" y="926.7">D5</text><text x="927" y="935.9">D6</text><text x="927" y="945">D7</text><text class="e" x="979" y="835">VO</text><text class="e" x="979" y="862.5">LED(+)</text><text class="e" x="979" y="871.5">LED(−)</text>
<text transform="translate(955.4,840) rotate(-90)">VDD</text><text transform="translate(955.4,948) rotate(-90)">VSS</text>
<text x="822.5" y="899.2">SER</text><text x="822.5" y="917.7">SRCLK</text><text x="822.5" y="926.7">SRCLR</text><text x="822.5" y="945">RCLK</text><text x="822.5" y="954.4">OE</text>
<text class="e" x="875" y="899.2">QA</text><text class="e" x="875" y="908.4">QB</text><text class="e" x="875" y="917.7">QC</text><text class="e" x="875" y="926.7">QD</text><text class="e" x="875" y="935.9">QE</text><text class="e" x="875" y="945">QF</text><text class="e" x="875" y="954.4">QG</text><text class="e" x="875" y="963.5">QH</text><text class="e" x="875" y="981.7">QH'</text>
<text transform="translate(850.9,903) rotate(-90)">VCC</text><text transform="translate(850.9,986) rotate(-90)">GND</text>
<text class="m" x="930" y="796.2">+5V</text><text class="m" x="952.9" y="800.3">DS1</text><text class="m" x="952.9" y="808.5">WC1602A</text>
<text class="m" x="1013.5" y="816.5">R5</text><text class="m" x="1013.5" y="825">1K</text><text x="1050.8" y="835">GND</text><text class="m" x="1001" y="847">+5V</text><text x="1039.5" y="883">R6</text><text x="1039.5" y="892">1K</text><text class="m" x="1033.2" y="915.2">GND</text><text class="m" x="952.9" y="985">GND</text><text class="e" x="864" y="844.2">GND</text>
<text class="m" x="848.4" y="865.5">U3</text><text class="m" x="848.4" y="874.5">74HC595</text>
<text x="732.3" y="880.7">R1</text><text x="732.3" y="889.3">10K</text><text x="765.3" y="880.7">R2</text><text x="765.3" y="889.3">10K</text><text x="798.5" y="880.7">R3</text><text x="798.5" y="889.3">10K</text>
<text class="m" x="759" y="853.5">+5V</text><text class="m" x="790.5" y="929.5">+5V</text><text class="m" x="848.4" y="1015.8">GND</text></g>
<path d="M822.5 920H840M822.5 947.6H829.5" stroke="#008484" stroke-width=".4"/>
<g class="k"><text x="777.8" y="895">PA7</text><text x="740" y="913.5">PA5</text><text x="706.7" y="940.5">PA6</text></g>
<g class="n"><text x="918" y="830.5">6</text><text x="918" y="839.7">5</text><text x="918" y="849">4</text><text x="918" y="876">7</text><text x="918" y="885.2">8</text><text x="918" y="894.4">9</text><text x="916" y="903.9">10</text><text x="916" y="913.2">11</text><text x="916" y="922.2">12</text><text x="916" y="931.4">13</text><text x="916" y="940.5">14</text><text x="983" y="830.5">3</text><text x="982" y="858">15</text><text x="982" y="867">16</text>
<text x="811" y="894.7">14</text><text x="811" y="913.2">11</text><text x="811" y="922.2">10</text><text x="811" y="940.5">12</text><text x="811" y="949.9">13</text><text x="878" y="894.7">15</text><text x="879" y="903.9">1</text><text x="879" y="913.2">2</text><text x="879" y="922.2">3</text><text x="879" y="931.4">4</text><text x="879" y="940.5">5</text><text x="879" y="949.9">6</text><text x="879" y="959">7</text><text x="879" y="977.2">9</text></g>
</svg>
</body></html>
